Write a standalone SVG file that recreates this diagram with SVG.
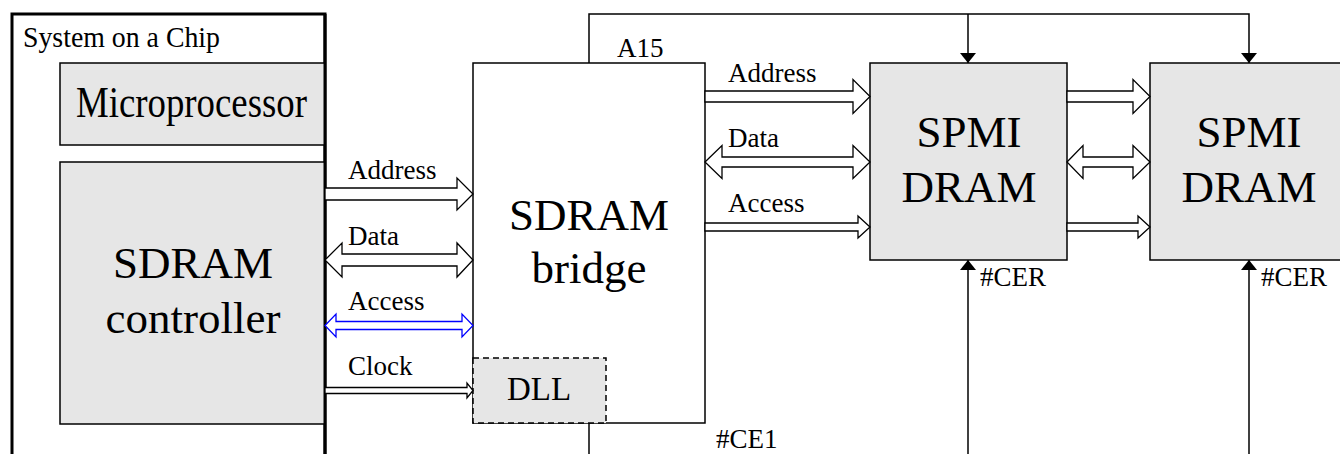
<svg xmlns="http://www.w3.org/2000/svg" width="1340" height="454" viewBox="0 0 1340 454">
<defs>
<style>
text{font-family:"Liberation Serif","Times New Roman",serif;fill:#000}
.lbl{font-size:27px}
.big{font-size:45px;text-anchor:middle}
.box{fill:#e6e6e6;stroke:#000;stroke-width:1.5}
.wbox{fill:#fff;stroke:#000;stroke-width:1.5}
.arr{fill:#fff;stroke:#000;stroke-width:1.3;stroke-linejoin:miter}
.blue{fill:#fff;stroke:#0000ff;stroke-width:1.3}
.wire{fill:none;stroke:#000;stroke-width:1.5}
</style>
<marker id="tri" viewBox="0 0 10 10" refX="10" refY="5" markerWidth="10" markerHeight="16" markerUnits="userSpaceOnUse" orient="auto" preserveAspectRatio="none">
<path d="M0,0 L10,5 L0,10 z" fill="#000"/>
</marker>
</defs>
<rect width="1340" height="454" fill="#fff"/>

<g id="soc">
<rect x="12" y="14" width="313" height="460" fill="#fff" stroke="#000" stroke-width="3"/>
<text x="23" y="47" style="font-size:30px" textLength="197" lengthAdjust="spacingAndGlyphs">System on a Chip</text>
</g>
<g id="microprocessor">
<rect class="box" x="60" y="63" width="265" height="82"/>
<text x="76" y="117" style="font-size:44px" textLength="231" lengthAdjust="spacingAndGlyphs">Microprocessor</text>
</g>
<g id="sdram-controller">
<rect class="box" x="60" y="162" width="265" height="262"/>
<text class="big" x="193" y="278">SDRAM</text>
<text class="big" x="193" y="333">controller</text>
</g>
<line x1="325" y1="14" x2="325" y2="454" stroke="#000" stroke-width="3"/>

<g id="sdram-bridge">
<rect class="wbox" x="473" y="63" width="232" height="360"/>
<text class="big" x="589" y="230">SDRAM</text>
<text class="big" x="589" y="283">bridge</text>
</g>
<g id="dll">
<rect x="473" y="358" width="133" height="65" fill="#e6e6e6" stroke="#000" stroke-width="1.5" stroke-dasharray="6,4"/>
<text x="507" y="400" style="font-size:33px">DLL</text>
</g>
<g id="spmi-dram-1">
<rect class="box" x="870" y="63" width="197" height="197"/>
<text class="big" x="969" y="147">SPMI</text>
<text class="big" x="969" y="202">DRAM</text>
</g>
<g id="spmi-dram-2">
<rect class="box" x="1150" y="63" width="200" height="197"/>
<text class="big" x="1249" y="147">SPMI</text>
<text class="big" x="1249" y="202">DRAM</text>
</g>

<g id="connectors">
<!-- left buses -->
<polygon class="arr" points="325,188 457,188 457,178 473,194 457,210 457,200 325,200"/>
<polygon class="arr" points="325,260 342,243 342,254 457,254 457,243 473,260 457,277 457,266 342,266 342,277"/>
<polygon class="blue" points="325,325.5 336,314 336,321.5 462,321.5 462,314 473,325.5 462,337 462,329.5 336,329.5 336,337"/>
<polygon class="arr" points="325,387.5 467,387.5 467,383 473,390.5 467,398 467,393.5 325,393.5"/>
<!-- bridge to DRAM1 -->
<polygon class="arr" points="705,91 853,91 853,79.5 870,96.5 853,113.5 853,102 705,102"/>
<polygon class="arr" points="705,162 722,145.5 722,157 853,157 853,145.5 870,162 853,178.5 853,167 722,167 722,178.5"/>
<polygon class="arr" points="705,223 858,223 858,216 870,227 858,238 858,231 705,231"/>
<!-- DRAM1 to DRAM2 -->
<polygon class="arr" points="1067,91 1133,91 1133,79.5 1150,96.5 1133,113.5 1133,102 1067,102"/>
<polygon class="arr" points="1067,162 1083,145.5 1083,157 1133,157 1133,145.5 1150,162 1133,178.5 1133,167 1083,167 1083,178.5"/>
<polygon class="arr" points="1067,223 1138,223 1138,216 1150,227 1138,238 1138,231 1067,231"/>
<!-- A15 line -->
<polyline class="wire" points="589,63 589,14 1249,14 1249,63" marker-end="url(#tri)"/>
<line class="wire" x1="968" y1="14" x2="968" y2="63" marker-end="url(#tri)"/>
<!-- CE lines -->
<line class="wire" x1="589" y1="423" x2="589" y2="454"/>
<line class="wire" x1="968" y1="454" x2="968" y2="260" marker-end="url(#tri)"/>
<line class="wire" x1="1249" y1="454" x2="1249" y2="260" marker-end="url(#tri)"/>
<text class="lbl" x="348" y="179">Address</text>
<text class="lbl" x="348" y="245">Data</text>
<text class="lbl" x="348" y="310">Access</text>
<text class="lbl" x="348" y="375">Clock</text>
<text class="lbl" x="728" y="82">Address</text>
<text class="lbl" x="728" y="147">Data</text>
<text class="lbl" x="728" y="212">Access</text>
<text class="lbl" x="617" y="57">A15</text>
<text class="lbl" x="716" y="448">#CE1</text>
<text class="lbl" x="980" y="286">#CER</text>
<text class="lbl" x="1261" y="286">#CER</text>
</g>
</svg>
